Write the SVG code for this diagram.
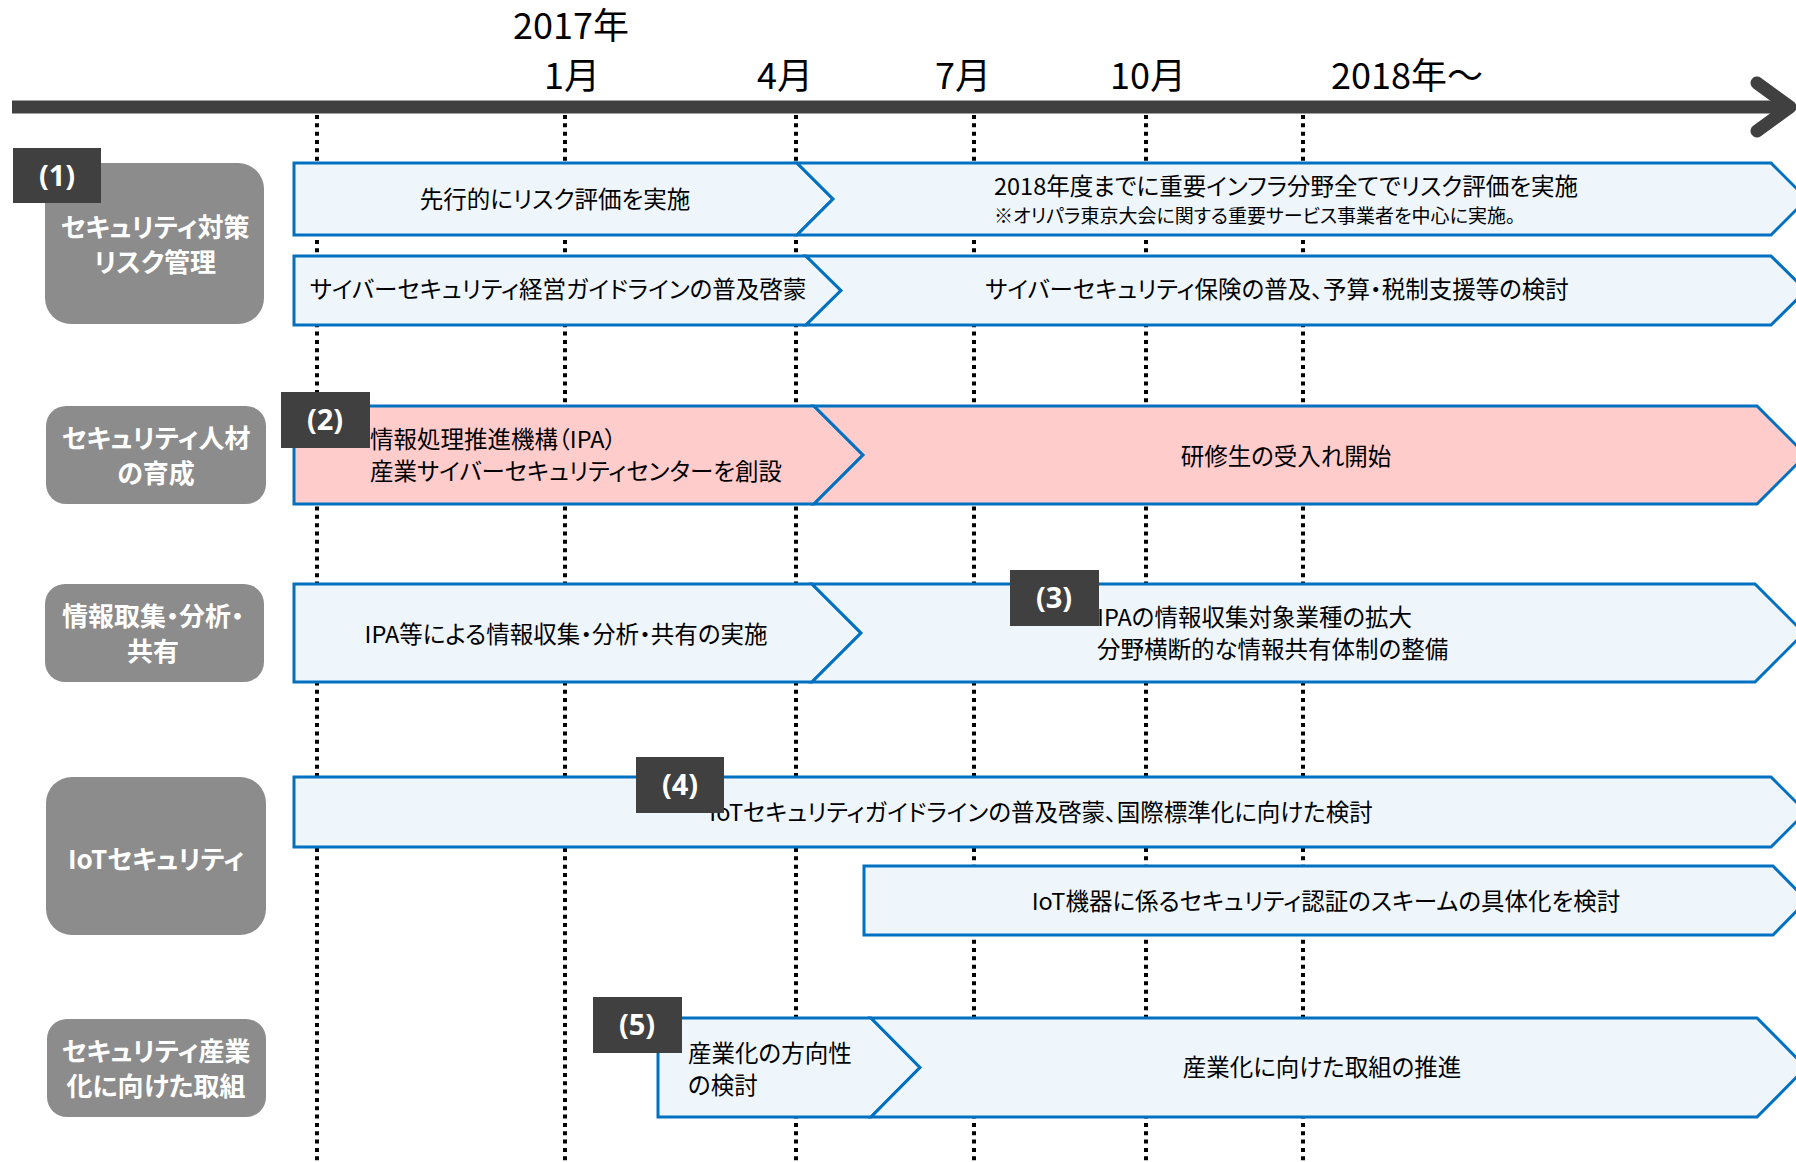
<svg xmlns="http://www.w3.org/2000/svg" width="1796" height="1162" viewBox="0 0 1796 1162">
<style>
  .t { font-family: "Noto Sans CJK JP", "Noto Sans", sans-serif; font-size: 23.5px; fill: #000; font-feature-settings: "palt" 1; }
  .s { font-size: 19px; }
  .m { text-anchor: middle; }
  .cat rect { fill: #8C8C8C; }
  .cat text { font-family: "Noto Sans CJK JP", sans-serif; font-weight: bold; font-size: 26px; fill: #fff; text-anchor: middle; font-feature-settings: "palt" 1; }
  .num rect { fill: #404040; }
  .num text { font-family: "Open Sans", "Noto Sans", sans-serif; font-weight: bold; font-size: 29px; fill: #fff; text-anchor: middle; }
  .bar { fill: #EEF6FC; stroke: #0070C0; stroke-width: 3; stroke-linejoin: miter; }
  .pink { fill: #FFCCCC; }
  .grid line { stroke: #000; stroke-width: 4; stroke-dasharray: 4 4.33; }
  .axis text { font-family: "Noto Sans CJK JP", sans-serif; font-size: 36px; fill: #000; }
</style>

<g id="grid" class="grid">
  <line x1="317" y1="115" x2="317" y2="1162"/>
  <line x1="565" y1="115" x2="565" y2="1162"/>
  <line x1="796" y1="115" x2="796" y2="1162"/>
  <line x1="974" y1="115" x2="974" y2="1162"/>
  <line x1="1146" y1="115" x2="1146" y2="1162"/>
  <line x1="1303" y1="115" x2="1303" y2="1162"/>
</g>

<g id="axis" class="axis">
  <line x1="12" y1="107" x2="1788" y2="107" stroke="#404040" stroke-width="13"/>
  <polyline points="1757,83 1790,107 1757,131" fill="none" stroke="#404040" stroke-width="13" stroke-linecap="round" stroke-linejoin="round"/>
  <text x="571" y="39" text-anchor="middle">2017年</text>
  <text x="572" y="89" text-anchor="middle">1月</text>
  <text x="785" y="89" text-anchor="middle">4月</text>
  <text x="963" y="89" text-anchor="middle">7月</text>
  <text x="1148" y="89" text-anchor="middle">10月</text>
  <text x="1331" y="89">2018年～</text>
</g>

<g id="categories">
  <g id="cat1" class="cat">
    <rect x="45" y="163" width="219" height="161" rx="26"/>
    <text x="155" y="237">セキュリティ対策</text>
    <text x="155" y="272">リスク管理</text>
  </g>
  <g id="cat2" class="cat">
    <rect x="46" y="406" width="220" height="98" rx="20"/>
    <text x="156" y="448">セキュリティ人材</text>
    <text x="156" y="483">の育成</text>
  </g>
  <g id="cat3" class="cat">
    <rect x="45" y="584" width="219" height="98" rx="20"/>
    <text x="153" y="626">情報取集・分析・</text>
    <text x="153" y="661">共有</text>
  </g>
  <g id="cat4" class="cat">
    <rect x="46" y="777" width="220" height="158" rx="26"/>
    <text x="156" y="869">IoTセキュリティ</text>
  </g>
  <g id="cat5" class="cat">
    <rect x="47" y="1019" width="219" height="98" rx="20"/>
    <text x="156" y="1061">セキュリティ産業</text>
    <text x="156" y="1096">化に向けた取組</text>
  </g>
</g>

<g id="tasks">
  <g id="r1a">
    <polygon class="bar" points="294,163 797,163 833,199 797,235 294,235"/>
    <polygon class="bar" points="797,163 1771,163 1807,199 1771,235 797,235 833,199"/>
    <text class="t m" x="555" y="208">先行的にリスク評価を実施</text>
    <text class="t" x="994" y="195">2018年度までに重要インフラ分野全てでリスク評価を実施</text>
    <text class="t s" x="994" y="223">※オリパラ東京大会に関する重要サービス事業者を中心に実施。</text>
  </g>
  <g id="r1b">
    <polygon class="bar" points="294,256 806,256 841,290.5 806,325 294,325"/>
    <polygon class="bar" points="806,256 1771,256 1806,290.5 1771,325 806,325 841,290.5"/>
    <text class="t m" x="558" y="298">サイバーセキュリティ経営ガイドラインの普及啓蒙</text>
    <text class="t m" x="1277" y="298">サイバーセキュリティ保険の普及、予算・税制支援等の検討</text>
  </g>
  <g id="r2">
    <polygon class="bar pink" points="294,406 814,406 863,455 814,504 294,504"/>
    <polygon class="bar pink" points="814,406 1757,406 1806,455 1757,504 814,504 863,455"/>
    <text class="t" x="370" y="448">情報処理推進機構（IPA）</text>
    <text class="t" x="370" y="480">産業サイバーセキュリティセンターを創設</text>
    <text class="t m" x="1286" y="465">研修生の受入れ開始</text>
  </g>
  <g id="r3">
    <polygon class="bar" points="294,584 812,584 861,633 812,682 294,682"/>
    <polygon class="bar" points="812,584 1755,584 1804,633 1755,682 812,682 861,633"/>
    <text class="t m" x="566" y="643">IPA等による情報収集・分析・共有の実施</text>
    <text class="t" x="1097" y="626">IPAの情報収集対象業種の拡大</text>
    <text class="t" x="1097" y="658">分野横断的な情報共有体制の整備</text>
  </g>
  <g id="r4a">
    <polygon class="bar" points="294,777 1771,777 1806,812 1771,847 294,847"/>
    <text class="t m" x="1041" y="821">IoTセキュリティガイドラインの普及啓蒙、国際標準化に向けた検討</text>
  </g>
  <g id="r4b">
    <polygon class="bar" points="864,866 1773,866 1807,900.5 1773,935 864,935"/>
    <text class="t m" x="1326" y="910">IoT機器に係るセキュリティ認証のスキームの具体化を検討</text>
  </g>
  <g id="r5">
    <polygon class="bar" points="658,1018 871,1018 920,1067.5 871,1117 658,1117"/>
    <polygon class="bar" points="871,1018 1757,1018 1806,1067.5 1757,1117 871,1117 920,1067.5"/>
    <text class="t" x="688" y="1062">産業化の方向性</text>
    <text class="t" x="688" y="1094">の検討</text>
    <text class="t m" x="1322" y="1076">産業化に向けた取組の推進</text>
  </g>
</g>

<g id="labels">
  <g id="n1" class="num"><rect x="13" y="148" width="88" height="55"/><text x="57" y="186">(1)</text></g>
  <g id="n2" class="num"><rect x="281" y="392" width="89" height="56"/><text x="325" y="430">(2)</text></g>
  <g id="n3" class="num"><rect x="1010" y="570" width="89" height="56"/><text x="1054" y="608">(3)</text></g>
  <g id="n4" class="num"><rect x="636" y="757" width="88" height="56"/><text x="680" y="795">(4)</text></g>
  <g id="n5" class="num"><rect x="593" y="997" width="89" height="56"/><text x="637" y="1035">(5)</text></g>
</g>
</svg>
